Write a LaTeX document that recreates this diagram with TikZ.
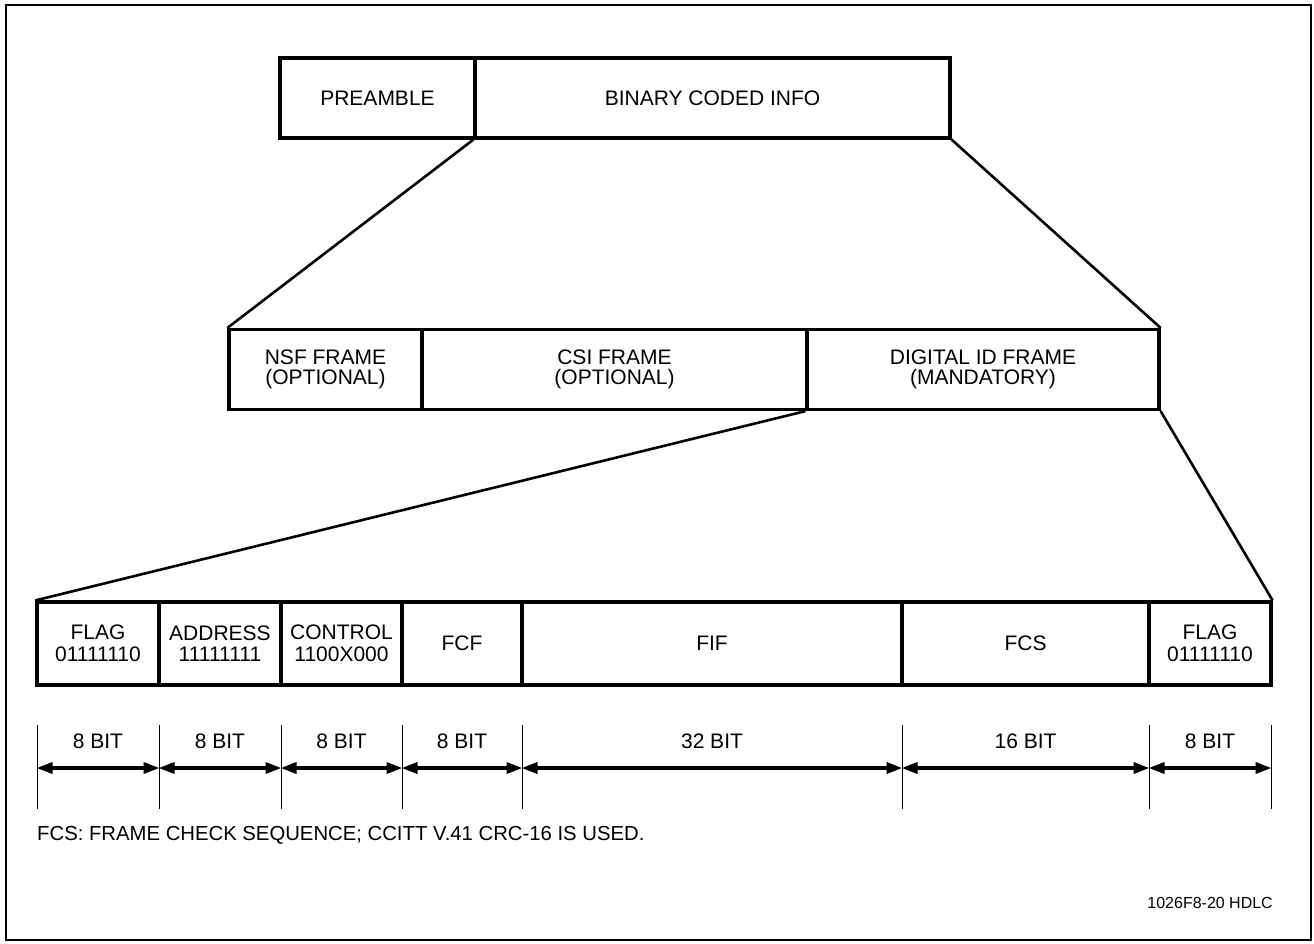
\documentclass[tikz,border=0pt]{standalone}
\usepackage{fontspec}
\setmainfont{Liberation Sans}
\usetikzlibrary{arrows.meta,calc}
\tikzset{
  cell/.style={draw, line width=3.2pt, inner sep=0pt, align=center,
    font=\fontsize{21}{20}\selectfont},
  toprow/.style={cell, minimum height=80pt},
  midrow/.style={cell, minimum height=80pt},
  botrow/.style={cell, minimum height=83pt, font=\fontsize{21}{21.5}\selectfont},
  link/.style={line width=2.6pt},
  tick/.style={line width=1pt},
  dimarrow/.style={line width=3.4pt, {Triangle[length=16pt,width=11pt]}-{Triangle[length=16pt,width=11pt]}, shorten <=-0.5pt, shorten >=-0.5pt},
  dimlabel/.style={font=\fontsize{21}{20}\selectfont, inner sep=0pt},
  note/.style={font=\fontsize{20.3}{20}\selectfont, inner sep=0pt},
  tag/.style={font=\fontsize{16}{16}\selectfont, inner sep=0pt}
}
\begin{document}
\begin{tikzpicture}[x=1pt,y=-1pt]
\useasboundingbox (0,0) rectangle (1314,943);
\draw[line width=2.4pt] (6,5) rectangle (1311,940);

% top row
\node[toprow, minimum width=195pt] (pre) at (377.5,98) {PREAMBLE};
\node[toprow, minimum width=475pt] (bin) at (712.5,98) {BINARY CODED INFO};

% middle row
\node[midrow, minimum width=193pt] (nsf) at (325.5,369.5) {NSF FRAME\\(OPTIONAL)};
\node[midrow, minimum width=385pt] (csi) at (614.5,369.5) {CSI FRAME\\(OPTIONAL)};
\node[midrow, minimum width=352pt] (dig) at (983,369.5) {DIGITAL ID FRAME\\(MANDATORY)};

% bottom row
\node[botrow, minimum width=122pt] (flag1) at (98,643.5) {FLAG\\01111110};
\node[botrow, minimum width=122pt] (addr) at (220,643.5) {ADDRESS\\11111111};
\node[botrow, minimum width=121pt] (ctrl) at (341.5,643.5) {CONTROL\\1100X000};
\node[botrow, minimum width=120pt] (fcf) at (462,643.5) {FCF};
\node[botrow, minimum width=380pt] (fif) at (712,643.5) {FIF};
\node[botrow, minimum width=247pt] (fcs) at (1025.5,643.5) {FCS};
\node[botrow, minimum width=122pt] (flag2) at (1210,643.5) {FLAG\\01111110};

% expansion connectors
\draw[link] (bin.south west) -- (nsf.north west);
\draw[link] (bin.south east) -- (dig.north east);
\draw[link] (dig.south west) -- (flag1.north west);
\draw[link] (dig.south east) -- (flag2.north east);

% dimension ticks
\foreach \i/\x in {0/37,1/159,2/281,3/402,4/522,5/902,6/1149,7/1271}{
  \coordinate (ta\i) at (\x,725);
  \coordinate (tb\i) at (\x,809);
  \coordinate (d\i) at (\x,768);
  \draw[tick] (ta\i) -- (tb\i);
}
% dimension arrows and labels
\foreach \a/\b/\t in {0/1/8 BIT,1/2/8 BIT,2/3/8 BIT,3/4/8 BIT,4/5/32 BIT,5/6/16 BIT,6/7/8 BIT}{
  \draw[dimarrow] (d\a) -- (d\b);
  \node[dimlabel] (lab\a) at ($(d\a)!0.5!(d\b)+(0,-27)$) {\t};
}

\node[note, anchor=west] (fcsnote) at (37,835) {FCS: FRAME CHECK SEQUENCE; CCITT V.41 CRC-16 IS USED.};
\node[tag, anchor=east] (figtag) at (1273,903) {1026F8-20 HDLC};
\end{tikzpicture}
\end{document}
